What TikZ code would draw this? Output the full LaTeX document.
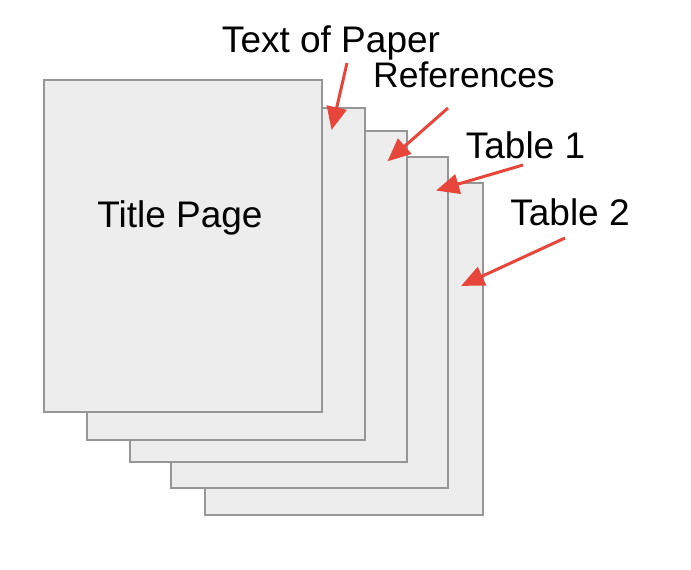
\documentclass[tikz,border=0pt]{standalone}
\usepackage{fontspec}
\setmainfont{Liberation Sans}
\usetikzlibrary{arrows.meta}
\definecolor{pagefill}{HTML}{EDEDED}
\definecolor{pageline}{HTML}{969696}
\definecolor{arrowred}{HTML}{E8463A}
\tikzset{
  pagebox/.style={draw=pageline, fill=pagefill, line width=1.7pt, inner sep=0pt},
  lbl/.style={font=\fontsize{37}{42}\selectfont, inner sep=0pt, anchor=base, text=black},
  redarrow/.style={draw=arrowred, line width=3pt, -{Triangle[length=23pt,width=20pt]}, shorten >=-2pt}
}
\begin{document}
\begin{tikzpicture}[x=1pt,y=-1pt]
\useasboundingbox (0,0) rectangle (691,570);
% pages, back to front
\node[pagebox, minimum width=278pt, minimum height=332pt] (p5) at (344,349) {};
\node[pagebox, minimum width=277pt, minimum height=331pt] (p4) at (309.5,322.5) {};
\node[pagebox, minimum width=277pt, minimum height=331pt] (p3) at (268.5,296.5) {};
\node[pagebox, minimum width=278pt, minimum height=332pt] (p2) at (226,274) {};
\node[pagebox, minimum width=278pt, minimum height=332pt] (p1) at (183,246) {};
\node[lbl] (title) at (180,227) {Title Page};
% labels
\node[lbl] (ltext) at (331,52) {Text of Paper};
\node[lbl, font=\fontsize{35.5}{40}\selectfont] (lref) at (464,87) {References};
\node[lbl] (lt1) at (525.5,158) {Table 1};
\node[lbl] (lt2) at (570,225) {Table 2};
% arrow ends
\coordinate (a1s) at (347,63);
\coordinate (a1e) at (332,128);
\coordinate (a2s) at (448,108);
\coordinate (a2e) at (389,160);
\coordinate (a3s) at (523,165);
\coordinate (a3e) at (438,190);
\coordinate (a4s) at (565,238);
\coordinate (a4e) at (463,285);
\draw[redarrow] (a1s) -- (a1e);
\draw[redarrow] (a2s) -- (a2e);
\draw[redarrow] (a3s) -- (a3e);
\draw[redarrow] (a4s) -- (a4e);
\end{tikzpicture}
\end{document}
